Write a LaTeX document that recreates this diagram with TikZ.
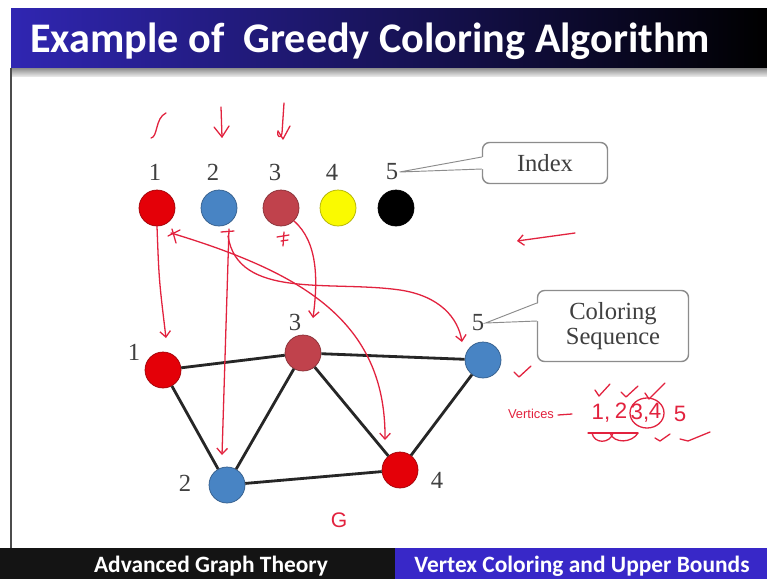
\documentclass[tikz,border=0pt]{standalone}
\usepackage{fontspec}
\setmainfont{Liberation Serif}
\newfontfamily\slidefont{Carlito}
\newfontfamily\handfont{Liberation Sans}
\usepackage{tikz}
\usetikzlibrary{arrows.meta,positioning,calc}
\definecolor{titleblue}{RGB}{48,38,178}
\definecolor{barblue}{RGB}{56,40,200}
\definecolor{cred}{RGB}{228,0,8}
\definecolor{cblue}{RGB}{72,132,196}
\definecolor{cbrown}{RGB}{192,66,76}
\definecolor{cyellow}{RGB}{250,250,0}
\definecolor{inkred}{RGB}{226,34,62}

\begin{document}
\begin{tikzpicture}[
  x=0.03cm, y=-0.03cm,
  every node/.style={font=\fontsize{21}{23}\selectfont},
  vtx/.style={circle, minimum size=36*0.03cm, inner sep=0pt, draw=#1!70!black, line width=0.6pt, fill=#1},
  lab/.style={inner sep=1pt, text=black!75},
  edge/.style={line width=2.4pt, draw=black!85},
  notebox/.style={draw=black!45, line width=1.2pt, rounded corners=6pt, fill=white,
                  align=center, text=black!75},
  pointer/.style={draw=black!45, line width=0.8pt},
  ink/.style={draw=inkred, line width=1.1pt, line cap=round, line join=round},
  inkarrow/.style={ink, -{Straight Barb[length=5pt,width=9pt]}},
  inktext/.style={text=inkred, inner sep=0pt, font=\handfont\fontsize{19}{21}\selectfont},
]
\useasboundingbox (0,0) rectangle (767,579);
\fill[white] (0,0) rectangle (767,579);

%% Slide frame
\shade[left color=titleblue, middle color=titleblue!75!black, right color=black]
  (11,8) rectangle (767,68);
\shade[top color=black!45, bottom color=black!10] (11,68) rectangle (767,76);
\draw[black!70, line width=1pt] (11,68) -- (11,548);
\node[anchor=west, text=white, inner sep=0pt, font=\slidefont\bfseries\fontsize{36}{38}\selectfont]
  (title) at (30,41) {Example of\ \ Greedy Coloring Algorithm};
\fill[black!92] (0,548) rectangle (395,579);
\fill[barblue] (395,548) rectangle (767,579);
\node[text=white, font=\slidefont\bfseries\fontsize{20}{22}\selectfont] (footl) at (211,566) {Advanced Graph Theory};
\node[text=white, font=\slidefont\bfseries\fontsize{20}{22}\selectfont] (footr) at (582,566) {Vertex Coloring and Upper Bounds};

%% Colour index row
\foreach \i/\x/\lx/\c in {1/157/155/cred, 2/219/213/cblue, 3/281/275/cbrown, 4/338/332/cyellow, 5/396/392/black}{
  \node[vtx=\c] (t\i) at (\x,208) {};
  \node[lab] (tl\i) at (\lx,172) {\i};
}

%% Graph G
\node[vtx=cred]   (g1) at (163,370) {};
\node[vtx=cblue]  (g2) at (227,485) {};
\node[vtx=cbrown] (g3) at (303,353) {};
\node[vtx=cred]   (g4) at (400,470) {};
\node[vtx=cblue]  (g5) at (483,360) {};
\node[lab] (gl1) at (134,352) {1};
\node[lab] (gl2) at (185,483) {2};
\node[lab] (gl3) at (295,322) {3};
\node[lab] (gl4) at (437,480) {4};
\node[lab] (gl5) at (478,323) {5};
\foreach \a/\b in {g1/g3, g3/g5, g1/g2, g2/g3, g3/g4, g2/g4, g4/g5}
  \draw[edge] (\a) -- (\b);

%% Callouts
\node[notebox, minimum width=125*0.03cm, minimum height=41*0.03cm] (ibox) at (545,163) {Index};
\fill[white] ($(ibox.west)+(2,-6)$) -- (tl5.east) -- ($(ibox.west)+(2,6)$) -- cycle;
\draw[pointer] ($(ibox.west)+(0,-6)$) -- (tl5.east) -- ($(ibox.west)+(0,6)$);
\node[notebox, minimum width=151*0.03cm, minimum height=71*0.03cm] (sbox) at (613,326) {Coloring\\[-2pt]Sequence};
\fill[white] ($(sbox.west)+(2,-23)$) -- (gl5.east) -- ($(sbox.west)+(2,-5)$) -- cycle;
\draw[pointer] ($(sbox.west)+(0,-23)$) -- (gl5.east) -- ($(sbox.west)+(0,-5)$);

%% Hand-drawn annotations
\draw[ink] (151,138) .. controls (158,137) and (155,118) .. (166,113);
\draw[ink] (221,107) -- (222,137);
\draw[ink] (214,127) -- (222,137) -- (229,126);
\draw[ink] (284,103) -- (282,133) .. controls (281,140) and (276,136) .. (278,131);
\draw[ink] (278,131) -- (283,139) -- (290,126);
\draw[ink] (168,236) -- (180,230) (172,229) -- (176,243);
\draw[ink] (221,232) -- (234,231);
\draw[ink] (277,237) -- (289,235) (281,241) -- (288,240) (284,232) -- (283,246);
\draw[inkarrow] (t1.south) .. controls (159,280) .. (166,338);
\draw[inkarrow] (229,229) -- (222,455);
\draw[inkarrow] (171,233) .. controls (300,272) and (386,320) .. (385,440);
\draw[inkarrow] (228,236) .. controls (238,300) and (330,280) .. (400,290)
  .. controls (440,296) and (458,318) .. (462,342);
\draw[inkarrow] (t3.south east) .. controls (318,242) and (318,280) .. (313,318);
\draw[inkarrow] (575,233) -- (517,241);
\draw[ink] (514,372) -- (519,377) -- (531,366);
\node[inktext, font=\handfont\fontsize{11}{12}\selectfont] (vtxt) at (531,414) {Vertices};
\draw[ink] (558,415) -- (572,414);
\node[inktext] (v1) at (601,413) {1,};
\node[inktext] (v2) at (621,411) {2};
\node[inktext] (v3) at (640,413) {3,};
\node[inktext] (v4) at (655,411) {4};
\node[inktext] (v5) at (680,414) {5};
\draw[ink] (647,413) ellipse[x radius=17, y radius=15];
\draw[ink] (595,390) -- (599,396) -- (610,384);
\draw[ink] (621,392) -- (626,397) -- (638,386);
\draw[ink] (645,393) -- (649,399) -- (665,383);
\draw[ink] (588,433) -- (638,433);
\draw[ink] (592,433) .. controls (594,444) and (610,444) .. (613,433);
\draw[ink] (610,433) .. controls (614,444) and (632,443) .. (638,433);
\draw[ink] (655,438) -- (660,441) -- (670,434);
\draw[ink] (680,439) -- (688,441) -- (710,432);
\node[text=inkred, font=\handfont\fontsize{18}{20}\selectfont] (gname) at (339,520) {G};
\end{tikzpicture}
\end{document}
